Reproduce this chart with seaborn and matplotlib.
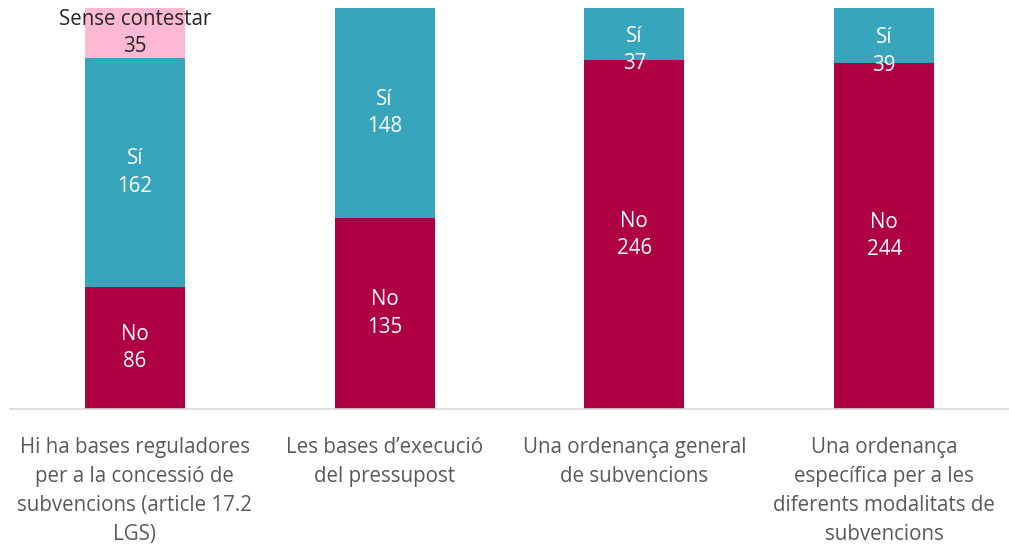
import pandas as pd
import matplotlib.pyplot as plt
import seaborn as sns

categories = [
    "Hi ha bases reguladores\nper a la concessió de\nsubvencions (article 17.2\nLGS)",
    "Les bases d’execució\ndel pressupost",
    "Una ordenança general\nde subvencions",
    "Una ordenança\nespecífica per a les\ndiferents modalitats de\nsubvencions",
]
no_vals = [86, 135, 246, 244]
si_vals = [162, 148, 37, 39]
sc_vals = [35, 0, 0, 0]

colors = {"No": "#AE0042", "Sí": "#37A6BD", "Sense contestar": "#FDB8D3"}

df = pd.DataFrame({"cat": categories, "No": no_vals, "Sí": si_vals, "Sense contestar": sc_vals})
df["cum_no"] = df["No"]
df["cum_si"] = df["No"] + df["Sí"]
df["cum_sc"] = df["cum_si"] + df["Sense contestar"]

sns.set_style("white")
plt.rcParams["font.family"] = ["Open Sans", "DejaVu Sans"]

fig = plt.figure(figsize=(10.09, 5.49), dpi=100)
ax = fig.add_axes([10 / 1009, 140 / 549, 999 / 1009, 401 / 549])

# overlay cumulative totals, tallest first
for col, key in [("cum_sc", "Sense contestar"), ("cum_si", "Sí"), ("cum_no", "No")]:
    sns.barplot(data=df, x="cat", y=col, color=colors[key], width=0.4, ax=ax,
                saturation=1, linewidth=0)

# segment labels
for i, row in df.iterrows():
    ax.text(i, row["No"] / 2, f"No\n{row['No']}", ha="center", va="center",
            color="white", fontsize=14.8, linespacing=1.4)
    # small top segments: label sits a bit lower, as in the original
    dy = -16 if (row["Sí"] < 50 and row["Sense contestar"] == 0) else 0
    ax.annotate(f"Sí\n{row['Sí']}", (i, row["No"] + row["Sí"] / 2),
                xytext=(0, dy), textcoords="offset pixels", ha="center", va="center",
                color="white", fontsize=14.8, linespacing=1.4)
    if row["Sense contestar"] > 0:
        ax.text(i, row["cum_si"] + row["Sense contestar"] / 2,
                f"Sense contestar\n{row['Sense contestar']}", ha="center", va="center",
                color="#262626", fontsize=14.8, linespacing=1.35)

ax.set_ylim(0, 283)
ax.set_xlim(-0.5, 3.5)
ax.set_xlabel("")
ax.set_ylabel("")
ax.set_yticks([])
ax.tick_params(axis="x", length=0, pad=20, labelsize=14.8, labelcolor="#595959")
for lbl in ax.get_xticklabels():
    lbl.set_linespacing(1.5)
sns.despine(ax=ax, left=True)
ax.spines["bottom"].set_color("#D9D9D9")
ax.spines["bottom"].set_linewidth(1.2)

fig.savefig("out.png", dpi=100)
